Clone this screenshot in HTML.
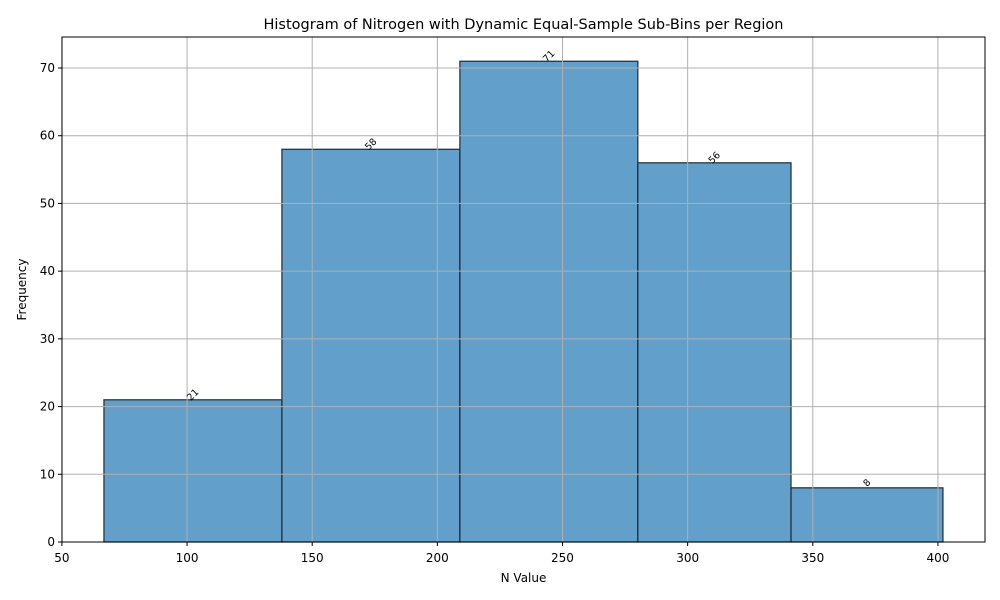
<!DOCTYPE html>
<html><head><meta charset="utf-8"><style>body{margin:0;background:#fff}svg{display:block;font-family:"DejaVu Sans","Liberation Sans",sans-serif}</style></head>
<body>
<svg id="chart" width="1000" height="600" xmlns="http://www.w3.org/2000/svg"></svg>
<script>
const binEdges = [66.8, 137.9, 209.0, 280.1, 341.3, 402.0];
const counts = [21, 58, 71, 56, 8];
const xTicks = [50, 100, 150, 200, 250, 300, 350, 400];
const yTicks = [0, 10, 20, 30, 40, 50, 60, 70];

const L=62, R=985, T=37, B=542;
const xmin=50.04, xmax=418.8, ymin=0, ymax=74.58;
const sx=v=>L+(v-xmin)/(xmax-xmin)*(R-L);
const sy=v=>B-(v-ymin)/(ymax-ymin)*(B-T);
const svg=document.getElementById('chart');
const NS='http://www.w3.org/2000/svg';
function mk(tag,attrs,parent){const e=document.createElementNS(NS,tag);for(const k in attrs)e.setAttribute(k,attrs[k]);(parent||svg).appendChild(e);return e;}

const barsG=mk('g',{});


for(let i=0;i<counts.length;i++){
  const x0=sx(binEdges[i]), x1=sx(binEdges[i+1]), y=sy(counts[i]);
  const r=mk('rect',{x:x0,y:y,width:x1-x0,height:B-y,fill:'#629fca',stroke:'#1f2a33','stroke-width':1.2},barsG);
  
  
}
const gridG=mk('g',{stroke:'#b0b0b0','stroke-width':1});


xTicks.forEach(t=>mk('line',{x1:sx(t),x2:sx(t),y1:T,y2:B},gridG));
yTicks.forEach(t=>mk('line',{x1:L,x2:R,y1:sy(t),y2:sy(t)},gridG));
for(let i=0;i<counts.length;i++){
  const cx=(sx(binEdges[i])+sx(binEdges[i+1]))/2, y=sy(counts[i])-5;
  const t=mk('text',{x:cx,y:y+3,'font-size':9.5,'text-anchor':'middle',fill:'#000',transform:`rotate(-45 ${cx} ${y})`});
  t.textContent=counts[i];
  
  
}
const fr=mk('rect',{x:L,y:T,width:R-L,height:B-T,fill:'none',stroke:'#000','stroke-width':1});


xTicks.forEach(t=>{
  mk('line',{x1:sx(t),x2:sx(t),y1:B,y2:B+4,stroke:'#000'});
  const e=mk('text',{x:sx(t),y:B+20,'font-size':12,'text-anchor':'middle'});e.textContent=t;
  
  
});
yTicks.forEach(t=>{
  mk('line',{x1:L-4,x2:L,y1:sy(t),y2:sy(t),stroke:'#000'});
  const e=mk('text',{x:L-7,y:sy(t)+4,'font-size':12,'text-anchor':'end'});e.textContent=t;
  
  
});
const xt=mk('text',{x:(L+R)/2,y:582,'font-size':12,'text-anchor':'middle'});xt.textContent='N Value';


const yt=mk('text',{x:26,y:(T+B)/2,'font-size':12,'text-anchor':'middle',transform:`rotate(-90 26 ${(T+B)/2})`});yt.textContent='Frequency';


const ti=mk('text',{x:(L+R)/2,y:29,'font-size':14.5,'text-anchor':'middle'});ti.textContent='Histogram of Nitrogen with Dynamic Equal-Sample Sub-Bins per Region';


</script>
</body></html>
